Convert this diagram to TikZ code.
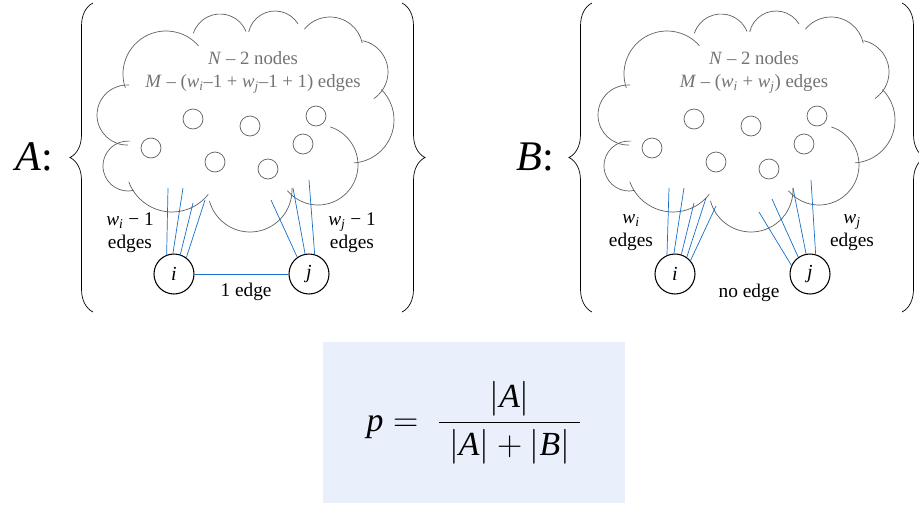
\documentclass[tikz,border=0pt]{standalone}
\usepackage{fontspec}
\setmainfont{Liberation Serif}
\usetikzlibrary{decorations.pathreplacing}
\definecolor{EdgeBlue}{RGB}{20,112,200}
\definecolor{CloudGray}{RGB}{95,95,95}
\definecolor{TextGray}{RGB}{115,115,115}
\definecolor{BoxBlue}{RGB}{233,240,252}

\newcommand{\wsub}[1]{\textit{w}\textsubscript{\textit{#1}}}
% one bump of the cloud: centre x, centre y, radius, from, to
\newcommand{\bump}[5]{\draw[cloudline] (#1,#2) ++(#4:#3) arc[start angle=#4,end angle=#5,radius=#3];}
\newcommand{\cloudshape}{%
  \bump{127}{115}{30}{88}{274}
  \bump{166}{74}{43}{161}{319}
  \bump{220}{42}{28}{198}{338}
  \bump{275}{38}{27}{193}{329}
  \bump{330}{50}{33}{219}{348}
  \bump{356}{72}{32}{282}{416}
  \bump{351}{120}{43}{315}{446}
  \bump{318}{165}{40}{288}{500}
  \bump{250}{190}{42}{-3}{165}
  \bump{172}{166}{46}{38}{160}
  \bump{128}{166}{25}{77}{275}
  \foreach \cx/\cy in {193/119,250/126,316/116,151/148,215/162,268/169,303/144}
    \draw[cloudline] (\cx,\cy) circle[radius=10];
}

\begin{document}
\begin{tikzpicture}[x=0.3mm,y=-0.3mm,
  cloudline/.style={draw=CloudGray,line width=0.6pt},
  vert/.style={draw,circle,line width=0.9pt,minimum size=12mm,inner sep=0pt,font=\itshape\fontsize{17}{20}\selectfont},
  lbl/.style={font=\fontsize{16.5}{19.5}\selectfont,align=center,inner sep=0pt},
  cloudtxt/.style={lbl,font=\fontsize{16}{19.5}\selectfont,text=TextGray},
  link/.style={draw=EdgeBlue,line width=0.6pt},
  big/.style={font=\fontsize{36}{40}\selectfont,inner sep=0pt},
  brc/.style={decorate,decoration={brace,amplitude=6.9mm},line width=0.6pt},
  formbox/.style={fill=BoxBlue,minimum width=90.6mm,minimum height=48.3mm,font=\fontsize{24}{28}\selectfont}]
\useasboundingbox (0,0) rectangle (919,508);
\clip (0,0) rectangle (919,508);

% set A: i and j joined
\node[big] (labA) at (34,157) {\textit{A}:};
\draw[brc] (93,312) -- (93,3);
\draw[brc] (402,3) -- (402,312);
\cloudshape
\node[cloudtxt] (txtA) at (253,72.5) {\textit{N} – 2 nodes\\\textit{M} – (\wsub{i}–1 + \wsub{j}–1 + 1) edges};
\node[vert] (iA) at (174,274) {i};
\node[vert] (jA) at (309,274) {j};
\foreach \a/\x/\y [count=\n] in {111/168/188,93/183/188,72/193/203,53/205/200}{
  \coordinate (tiA\n) at (\x,\y);
  \draw[link] (iA.\a) -- (tiA\n);}
\foreach \a/\x/\y [count=\n] in {125/271/200,101/293/188,74/309/180}{
  \coordinate (tjA\n) at (\x,\y);
  \draw[link] (jA.\a) -- (tjA\n);}
\draw[link] (iA) -- (jA);
\node[lbl] (wiA) at (130,233) {\wsub{i} − 1\\edges};
\node[lbl] (wjA) at (352,233) {\wsub{j} − 1\\edges};
\node[lbl] (eA) at (246,292) {1 edge};

% set B: no edge between i and j
\begin{scope}[shift={(501,0)}]
\node[big] (labB) at (34,157) {\textit{B}:};
\draw[brc] (91,312) -- (91,3);
\draw[brc] (401,3) -- (401,312);
\cloudshape
\node[cloudtxt] (txtB) at (253,72.5) {\textit{N} – 2 nodes\\\textit{M} – (\wsub{i} + \wsub{j}) edges};
\node[vert] (iB) at (174,274) {i};
\node[vert] (jB) at (309,274) {j};
\foreach \a/\x/\y [count=\n] in {113/168/188,93/183/188,72/193/203,55/205/198,41/215/206}{
  \coordinate (tiB\n) at (\x,\y);
  \draw[link] (iB.\a) -- (tiB\n);}
\foreach \a/\x/\y [count=\n] in {155/258/212,125/271/199,101/292/188,74/310/180}{
  \coordinate (tjB\n) at (\x,\y);
  \draw[link] (jB.\a) -- (tjB\n);}
\node[lbl] (wiB) at (130,233) {\wsub{i}\\edges};
\node[lbl] (wjB) at (351,233) {\wsub{j}\\edges};
\node[lbl] (eB) at (248,293) {no edge};
\end{scope}

% probability
\node[formbox] (formula) at (474,422.5) {\scalebox{1.2}{$\textit{p} =\; \displaystyle\frac{|\textit{A}|}{\;|\textit{A}| + |\textit{B}|\;}$}};
\end{tikzpicture}
\end{document}
